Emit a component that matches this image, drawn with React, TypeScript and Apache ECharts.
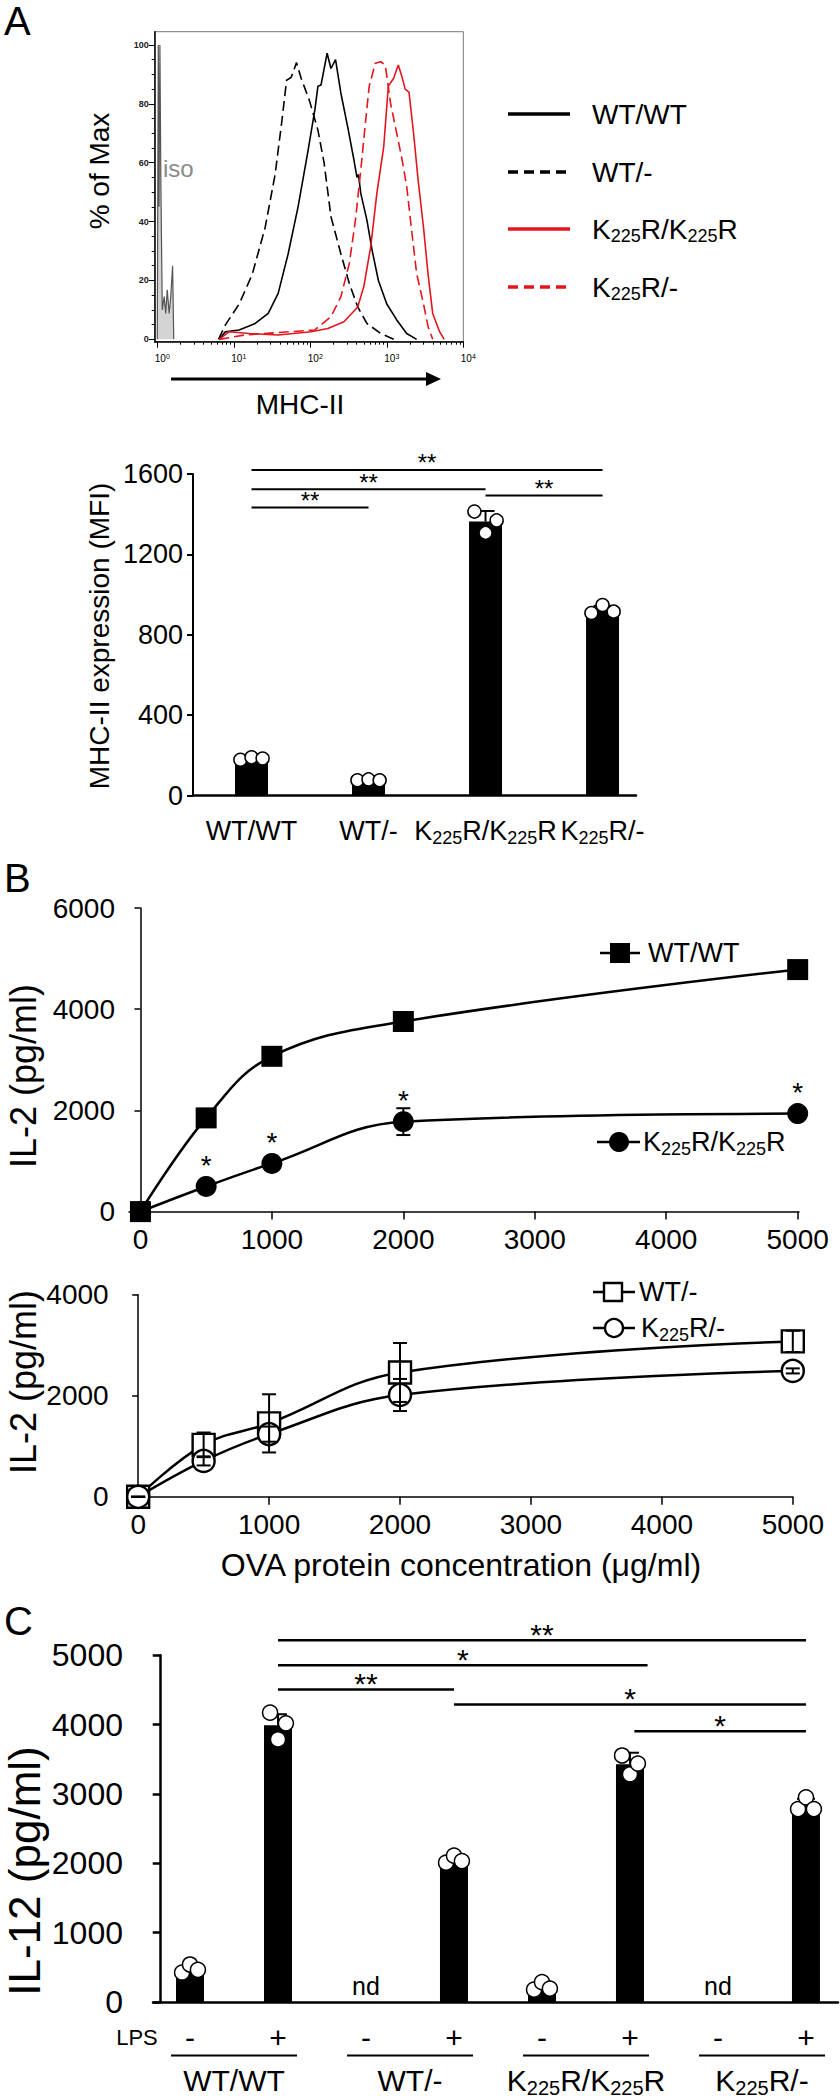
import React, { useEffect, useRef } from "react";
import * as echarts from "echarts";

const FONT = "'Liberation Sans', Arial, Helvetica, sans-serif";
const RED = "#e3161d";

// ---------- Panel A: flow histogram  [log10(MHC-II), % of Max] ----------
const histWTWT = [
  [0.81, 0], [0.89, 2.6], [1.07, 3.2], [1.28, 5.4], [1.45, 8.8], [1.58, 15.6], [1.71, 29], [1.84, 45],
  [1.97, 64], [2.06, 78], [2.1, 86], [2.14, 86.4], [2.22, 97.2], [2.27, 92], [2.33, 95], [2.4, 83.6],
  [2.49, 72], [2.57, 61], [2.61, 55], [2.63, 56], [2.66, 49.6], [2.74, 40.5], [2.81, 30], [2.89, 20],
  [3.0, 12], [3.13, 6.6], [3.26, 2], [3.39, 0],
];
const histWTminus = [
  [0.8, 0], [0.89, 4.9], [1.07, 12], [1.24, 22], [1.41, 38], [1.54, 56], [1.63, 74.5], [1.69, 88],
  [1.75, 89], [1.82, 94], [1.88, 88.7], [1.99, 81], [2.1, 71], [2.18, 60], [2.27, 41.7], [2.4, 29],
  [2.51, 19], [2.62, 11], [2.74, 5.4], [2.92, 2], [3.09, 0],
];
const histKK = [
  [0.81, 0], [0.94, 2.6], [1.2, 2], [1.58, 1.5], [2.01, 2.6], [2.23, 3.7], [2.44, 6], [2.62, 11],
  [2.7, 18], [2.79, 31.5], [2.87, 49.6], [2.96, 65.5], [3.02, 86], [3.09, 88.7], [3.15, 93.2], [3.2, 89],
  [3.24, 85], [3.29, 84], [3.35, 70], [3.41, 54], [3.48, 38], [3.54, 22], [3.6, 8.8], [3.69, 2.6], [3.75, 0],
];
const histKminus = [
  [0.81, 0], [1.15, 1.5], [2.06, 3.2], [2.27, 7.7], [2.4, 14.5], [2.51, 25.8], [2.59, 40.5], [2.66, 57.5],
  [2.72, 73.4], [2.77, 86], [2.85, 93.8], [2.92, 94.3], [2.98, 93.2], [3.05, 80], [3.13, 70], [3.2, 61],
  [3.26, 52], [3.32, 38], [3.39, 22.4], [3.48, 12], [3.54, 4.3], [3.6, 0],
];
const histIso = [
  [0, 0], [0.013, 100], [0.022, 45], [0.034, 100], [0.047, 52], [0.065, 10], [0.09, 14.5], [0.11, 8.8],
  [0.13, 16.8], [0.155, 8.8], [0.176, 14.5], [0.2, 25], [0.215, 0],
];
const histXTickLogs = [0, 1, 2, 3, 4];
const histYTicks = [0, 20, 40, 60, 80, 100];
const histYMinor = [5, 10, 15, 25, 30, 35, 45, 50, 55, 65, 70, 75, 85, 90, 95];
const histNames = ["WT/WT", "WT/-", "K225R/K225R", "K225R/-"];

// ---------- Panel A: MHC-II MFI ----------
const genotypes = ["WT/WT", "WT/-", "K225R/K225R", "K225R/-"];
const mfiMeans = [184, 77, 1363, 924];
const mfiSD = [8, 4, 53, 20];
const mfiDots = [[178, 190, 184], [76, 80, 76], [1413, 1307, 1369], [908, 948, 915]];
const mfiSig = [[1, 1620, 4], [1, 1524, 3], [3, 1493, 4], [1, 1433, 2]]; // [from, y, to]
const mfiSigLabels = ["**", "**", "**", "**"];

// ---------- Panel B: IL-2 ----------
const ovaConc = [0, 500, 1000, 2000, 5000];
const ovaTicks = [0, 1000, 2000, 3000, 4000, 5000];
const il2WTWT = [0, 1852, 3069, 3757, 4783];
const il2WTWTsd = [0, 120, 90, 110, 90];
const il2KK = [0, 497, 952, 1778, 1937];
const il2KKsd = [0, 50, 60, 265, 60];
const il2KKstars = ["", "*", "*", "*", "*"];
const il2WTminus = [0, 1029, 1454, 2462, 3077];
const il2WTminusSd = [0, 244, 576, 583, 212];
const il2Kminus = [0, 711, 1241, 2016, 2493];
const il2KminusSd = [0, 90, 150, 318, 50];

// ---------- Panel C: IL-12 ----------
const lpsSigns = ["-", "+", "-", "+", "-", "+", "-", "+"];
const il12Means = [470, 3990, null, 2050, 215, 3430, null, 2840];
const il12SD = [40, 160, null, 50, 50, 165, null, 90];
const il12Dots = [[425, 541, 464], [4173, 3787, 4019], null, [2009, 2110, 2032], [178, 286, 193], [3555, 3284, 3439], null, [2782, 2952, 2782]];
const il12Sig = [[1, 5218, 7], [1, 4856, 5.2], [1, 4508, 3], [3, 4291, 7], [5.05, 3904, 7]];
const il12SigLabels = ["**", "*", "**", "*", "*"];

// ---------- layout constants ----------
const C_OFF = 0.333;
const C_X0 = 160.7;
const C_STEP = 88;
const JIT_A = 0.095;
const JIT_C = 0.09;

const plain = (v: number) => String(v);

function toRich(s: string) {
  return s
    .split(/(225)/)
    .filter((p) => p.length > 0)
    .map((p) => (p === "225" ? "{s|225}" : `{n|${p}}`))
    .join("");
}
function richStyles(size: number) {
  return {
    n: { fontSize: size, fontFamily: FONT, lineHeight: Math.round(size * 1.15), color: "#000", fill: "#000" },
    s: {
      fontSize: Math.round(size * 0.65), fontFamily: FONT, lineHeight: Math.round(size * 0.6),
      verticalAlign: "bottom", color: "#000", fill: "#000",
    },
  };
}
function txt(x: number, y: number, text: string, size: number, opts: any = {}) {
  return {
    type: "text", x, y, rotation: opts.rot || 0, z: 20,
    style: {
      text, fontSize: size, fontFamily: FONT, fill: opts.fill || "#000",
      align: opts.align || "center", verticalAlign: "middle", rich: opts.rich,
    },
  };
}
function hline(x1: number, x2: number, y: number, w: number, dash?: number[], color = "#000") {
  return { type: "line", z: 20, shape: { x1, y1: y, x2, y2: y }, style: { stroke: color, lineWidth: w, lineDash: dash } };
}

const errRender = (capHalf: number, upOnly: boolean, lw: number) => (params: any, api: any) => {
  const x = api.value(0), m = api.value(1), sd = api.value(2);
  const p1 = api.coord([x, m + sd]);
  const p0 = api.coord([x, upOnly ? m : m - sd]);
  const st = { stroke: "#000", lineWidth: lw };
  const ch: any[] = [
    { type: "line", shape: { x1: p1[0], y1: p1[1], x2: p0[0], y2: p0[1] }, style: st },
    { type: "line", shape: { x1: p1[0] - capHalf, y1: p1[1], x2: p1[0] + capHalf, y2: p1[1] }, style: st },
  ];
  if (!upOnly) ch.push({ type: "line", shape: { x1: p0[0] - capHalf, y1: p0[1], x2: p0[0] + capHalf, y2: p0[1] }, style: st });
  return { type: "group", children: ch };
};
const sigRender = (labels: string[], fontSize: number, lw: number, gap: number) => (params: any, api: any) => {
  const y = api.value(1);
  const a = api.coord([api.value(0), y]);
  const b = api.coord([api.value(2), y]);
  return {
    type: "group",
    children: [
      { type: "line", shape: { x1: a[0], y1: a[1], x2: b[0], y2: b[1] }, style: { stroke: "#000", lineWidth: lw } },
      {
        type: "text", x: (a[0] + b[0]) / 2, y: a[1] - gap,
        style: { text: labels[params.dataIndex], fontSize, fontFamily: FONT, fill: "#000", align: "center", verticalAlign: "middle" },
      },
    ],
  };
};
const dotData = (groups: (number[] | null)[], jit: number, off: number) =>
  groups.flatMap((vals, i) => (vals ? vals.map((v, j) => [i + off + (j - 1) * jit, v]) : []));

function buildOption() {
  const blackAxis = (w: number) => ({ lineStyle: { color: "#000", width: w } });
  const histMinor = [0, 1, 2, 3].flatMap((d) => [2, 3, 4, 5, 6, 7, 8, 9].map((k) => d + Math.log10(k)));

  const histLine = (name: string, data: number[][], color: string, dashed: boolean) => ({
    type: "line", name, xAxisIndex: 0, yAxisIndex: 0, data, symbol: "none", clip: true, z: 3,
    lineStyle: { color, width: 1.6, type: dashed ? [10, 5] : "solid" },
  });

  const axisLblB = { fontSize: 28, fontFamily: FONT, color: "#000", formatter: plain };

  const graphics: any[] = [
    txt(4, 21, "A", 40, { align: "left" }),
    txt(4, 878, "B", 40, { align: "left" }),
    txt(4, 1621, "C", 40, { align: "left" }),
    // histogram decorations
    txt(99, 171, "% of Max", 28, { rot: Math.PI / 2 }),
    txt(163, 168, "iso", 24, { align: "left", fill: "#8a8a8a" }),
    { type: "line", z: 20, shape: { x1: 171, y1: 379, x2: 428, y2: 379 }, style: { stroke: "#000", lineWidth: 3 } },
    { type: "polygon", z: 20, shape: { points: [[426, 372], [441, 379], [426, 386]] }, style: { fill: "#000" } },
    txt(300, 404, "MHC-II", 28),
    // histogram legend
    hline(508, 570, 114, 3.5),
    txt(592, 114, toRich(histNames[0]), 28, { align: "left", rich: richStyles(28) }),
    hline(508, 570, 172, 3.5, [10, 6]),
    txt(592, 172, toRich(histNames[1]), 28, { align: "left", rich: richStyles(28) }),
    hline(508, 570, 229, 3.5, undefined, RED),
    txt(592, 229, toRich(histNames[2]), 28, { align: "left", rich: richStyles(28) }),
    hline(508, 570, 287, 3.5, [10, 6], RED),
    txt(592, 287, toRich(histNames[3]), 28, { align: "left", rich: richStyles(28) }),
    // MFI y label
    txt(99, 636, "MHC-II expression (MFI)", 28, { rot: Math.PI / 2 }),
    // B top legend
    hline(600, 640, 953, 2.5),
    { type: "rect", z: 21, shape: { x: 610, y: 943, width: 20, height: 20 }, style: { fill: "#000" } },
    txt(648, 953, toRich("WT/WT"), 27, { align: "left", rich: richStyles(27) }),
    hline(597, 640, 1142, 2.5),
    { type: "circle", z: 21, shape: { cx: 619, cy: 1142, r: 10 }, style: { fill: "#000" } },
    txt(643, 1142, toRich("K225R/K225R"), 27, { align: "left", rich: richStyles(27) }),
    txt(23, 1076, "IL-2 (pg/ml)", 36, { rot: Math.PI / 2 }),
    // B bottom legend
    hline(593, 635, 1292, 2.5),
    { type: "rect", z: 21, shape: { x: 604, y: 1283, width: 18, height: 18 }, style: { fill: "#fff", stroke: "#000", lineWidth: 2.4 } },
    txt(639, 1292, toRich("WT/-"), 27, { align: "left", rich: richStyles(27) }),
    hline(593, 635, 1328, 2.5),
    { type: "circle", z: 21, shape: { cx: 614, cy: 1328, r: 9 }, style: { fill: "#fff", stroke: "#000", lineWidth: 2.4 } },
    txt(641, 1328, toRich("K225R/-"), 27, { align: "left", rich: richStyles(27) }),
    txt(23, 1382, "IL-2 (pg/ml)", 36, { rot: Math.PI / 2 }),
    txt(461, 1565, "OVA protein concentration (μg/ml)", 32),
    // C decorations
    txt(24, 1871, "IL-12 (pg/ml)", 44, { rot: Math.PI / 2 }),
    txt(137, 2037, "LPS", 22),
  ];
  genotypes.forEach((g, gi) => {
    const xl = C_X0 + (2 * gi + C_OFF) * C_STEP - 19;
    const xr = C_X0 + (2 * gi + 1 + C_OFF) * C_STEP + 19;
    graphics.push(hline(xl, xr, 2055.5, 2));
    graphics.push(txt((xl + xr) / 2, 2080, toRich(g), 30, { rich: richStyles(30) }));
  });

  return {
    animation: false,
    backgroundColor: "#fff",
    textStyle: { fontFamily: FONT },
    grid: [
      { left: 154.7, top: 31.7, width: 308.6, height: 310, show: true, borderColor: "#777", borderWidth: 1 },
      { left: 193, top: 474, width: 443, height: 321.5 },
      { left: 129, top: 908, width: 670, height: 303.6 },
      { left: 128.6, top: 1294.8, width: 664.2, height: 202 },
      { left: 153, top: 1655.3, width: 685, height: 346.7 },
    ],
    xAxis: [
      {
        gridIndex: 0, type: "value", min: -0.034, max: 4.0, position: "bottom",
        axisLine: { onZero: false, ...blackAxis(1.5) },
        axisTick: { customValues: histXTickLogs, length: 6, lineStyle: { color: "#000" } },
        axisLabel: {
          customValues: histXTickLogs, margin: 11, padding: [0, 0, 0, 10],
          formatter: (v: number) => `{b|10}{p|${v}}`,
          rich: {
            b: { fontSize: 10, lineHeight: 12, fontFamily: FONT, color: "#000" },
            p: { fontSize: 7, lineHeight: 6, verticalAlign: "top", fontFamily: FONT, color: "#000" },
          },
        },
        splitLine: { show: false },
      },
      {
        gridIndex: 0, type: "value", min: -0.034, max: 4.0, position: "bottom",
        axisLine: { show: false, onZero: false },
        axisTick: { customValues: histMinor, length: 3, lineStyle: { color: "#000" } },
        axisLabel: { show: false }, splitLine: { show: false },
      },
      {
        gridIndex: 1, type: "value", min: 0.5, max: 4.286,
        axisLine: blackAxis(2.5), axisTick: { show: false },
        axisLabel: {
          customValues: [1, 2, 3, 4], margin: 20, formatter: (v: number) => toRich(genotypes[Math.round(v) - 1]),
          rich: richStyles(27),
        },
        splitLine: { show: false },
      },
      {
        gridIndex: 2, type: "value", min: -87, max: 5010,
        axisLine: { onZero: true, ...blackAxis(1.5) },
        axisTick: { customValues: ovaTicks, length: 8, lineStyle: { color: "#000", width: 1.5 } },
        axisLabel: { customValues: ovaTicks, margin: 14, ...axisLblB },
        splitLine: { show: false },
      },
      {
        gridIndex: 3, type: "value", min: -73, max: 5000,
        axisLine: { onZero: true, ...blackAxis(1.5) },
        axisTick: { customValues: ovaTicks, length: 8, lineStyle: { color: "#000", width: 1.5 } },
        axisLabel: { customValues: ovaTicks, margin: 14, ...axisLblB },
        splitLine: { show: false },
      },
      {
        gridIndex: 4, type: "value", min: -0.0875, max: 7.697,
        axisLine: blackAxis(2.5), axisTick: { show: false },
        axisLabel: {
          customValues: lpsSigns.map((_, i) => i + C_OFF), margin: 20, fontSize: 30, color: "#000", fontFamily: FONT,
          formatter: (v: number) => lpsSigns[Math.round(v - C_OFF)],
        },
        splitLine: { show: false },
      },
    ],
    yAxis: [
      {
        gridIndex: 0, type: "value", min: -0.8, max: 104.5, position: "left",
        axisLine: { onZero: false, ...blackAxis(1.5) },
        axisTick: { customValues: histYTicks, length: 6, lineStyle: { color: "#000" } },
        axisLabel: { customValues: histYTicks, fontSize: 9, fontWeight: "bold", color: "#222", margin: 6 },
        splitLine: { show: false },
      },
      {
        gridIndex: 0, type: "value", min: -0.8, max: 104.5, position: "left",
        axisLine: { show: false, onZero: false },
        axisTick: { customValues: histYMinor, length: 3, lineStyle: { color: "#000" } },
        axisLabel: { show: false }, splitLine: { show: false },
      },
      {
        gridIndex: 1, type: "value", min: 0, max: 1600, interval: 400,
        axisLine: { show: true, ...blackAxis(2) },
        axisTick: { show: true, length: 6, lineStyle: { color: "#000", width: 2 } },
        axisLabel: { fontSize: 27, color: "#000", margin: 10, fontFamily: FONT, formatter: plain },
        splitLine: { show: false },
      },
      {
        gridIndex: 2, type: "value", min: 0, max: 6000, interval: 2000,
        axisLine: { show: true, onZero: true, ...blackAxis(1.5) },
        axisTick: { show: true, length: 6, lineStyle: { color: "#000", width: 1.5 } },
        axisLabel: { margin: 14, ...axisLblB },
        splitLine: { show: false },
      },
      {
        gridIndex: 3, type: "value", min: 0, max: 4000, interval: 2000,
        axisLine: { show: true, onZero: true, ...blackAxis(1.5) },
        axisTick: { show: true, length: 6, lineStyle: { color: "#000", width: 1.5 } },
        axisLabel: { margin: 20, ...axisLblB },
        splitLine: { show: false },
      },
      {
        gridIndex: 4, type: "value", min: 0, max: 5000, interval: 1000,
        axisLine: { show: true, onZero: true, ...blackAxis(2.5) },
        axisTick: { show: true, length: 8, lineStyle: { color: "#000", width: 2.5 } },
        axisLabel: { fontSize: 32, color: "#000", margin: 30, fontFamily: FONT, formatter: plain },
        splitLine: { show: false },
      },
    ],
    series: [
      // ---- histogram
      {
        type: "line", name: "iso", xAxisIndex: 0, yAxisIndex: 0, data: histIso, symbol: "none", z: 2,
        lineStyle: { color: "#555", width: 1.2 }, areaStyle: { color: "#d4d4d4", opacity: 1 },
      },
      histLine(histNames[1], histWTminus, "#000", true),
      histLine(histNames[0], histWTWT, "#000", false),
      histLine(histNames[3], histKminus, RED, true),
      histLine(histNames[2], histKK, RED, false),
      // ---- MFI bars
      {
        type: "bar", xAxisIndex: 2, yAxisIndex: 2, barWidth: 33, itemStyle: { color: "#000" },
        data: mfiMeans.map((v, i) => [i + 1, v]),
      },
      {
        type: "custom", xAxisIndex: 2, yAxisIndex: 2, clip: false, z: 4,
        renderItem: errRender(9, true, 2), data: mfiMeans.map((v, i) => [i + 1, v, mfiSD[i]]),
      },
      {
        type: "scatter", xAxisIndex: 2, yAxisIndex: 2, symbolSize: 13, z: 5,
        itemStyle: { color: "#fff", borderColor: "#000", borderWidth: 1.5, opacity: 1 },
        data: dotData(mfiDots, JIT_A, 1),
      },
      {
        type: "custom", xAxisIndex: 2, yAxisIndex: 2, clip: false, z: 6,
        renderItem: sigRender(mfiSigLabels, 24, 2, 7), data: mfiSig,
      },
      // ---- IL-2 top
      {
        type: "line", name: "WT/WT", xAxisIndex: 3, yAxisIndex: 3, smooth: 0.4,
        symbol: "rect", symbolSize: 21, itemStyle: { color: "#000" }, lineStyle: { color: "#000", width: 2.5 },
        data: ovaConc.map((c, i) => [c, il2WTWT[i]]),
      },
      {
        type: "line", name: "K225R/K225R", xAxisIndex: 3, yAxisIndex: 3, smooth: 0.4,
        symbol: "circle", symbolSize: 21, itemStyle: { color: "#000" }, lineStyle: { color: "#000", width: 2.5 },
        data: ovaConc.map((c, i) => ({
          value: [c, il2KK[i]],
          label: {
            show: il2KKstars[i] !== "", formatter: il2KKstars[i], position: "inside", offset: [0, -21],
            fontSize: 28, color: "#000", fontFamily: FONT,
          },
        })),
      },
      {
        type: "custom", xAxisIndex: 3, yAxisIndex: 3, clip: false, z: 1,
        renderItem: errRender(7, false, 2),
        data: ovaConc.map((c, i) => [c, il2WTWT[i], il2WTWTsd[i]]).concat(ovaConc.map((c, i) => [c, il2KK[i], il2KKsd[i]])),
      },
      // ---- IL-2 bottom
      {
        type: "line", name: "WT/-", xAxisIndex: 4, yAxisIndex: 4, smooth: 0.4,
        symbol: "rect", symbolSize: 22, itemStyle: { color: "#fff", borderColor: "#000", borderWidth: 2.4 },
        lineStyle: { color: "#000", width: 2.5 },
        data: ovaConc.map((c, i) => [c, il2WTminus[i]]),
      },
      {
        type: "line", name: "K225R/-", xAxisIndex: 4, yAxisIndex: 4, smooth: 0.4,
        symbol: "circle", symbolSize: 22, itemStyle: { color: "#fff", borderColor: "#000", borderWidth: 2.4 },
        lineStyle: { color: "#000", width: 2.5 },
        data: ovaConc.map((c, i) => [c, il2Kminus[i]]),
      },
      {
        type: "custom", xAxisIndex: 4, yAxisIndex: 4, clip: false, z: 5,
        renderItem: errRender(7, false, 2),
        data: ovaConc.map((c, i) => [c, il2WTminus[i], il2WTminusSd[i]]).concat(ovaConc.map((c, i) => [c, il2Kminus[i], il2KminusSd[i]])),
      },
      // ---- IL-12
      {
        type: "bar", xAxisIndex: 5, yAxisIndex: 5, barWidth: 28, itemStyle: { color: "#000" },
        data: il12Means.map((v, i) => [i + C_OFF, v]).filter((d) => d[1] !== null),
      },
      {
        type: "custom", xAxisIndex: 5, yAxisIndex: 5, clip: false, z: 4,
        renderItem: errRender(9, true, 2),
        data: il12Means.map((v, i) => [i + C_OFF, v, il12SD[i]]).filter((d) => d[1] !== null),
      },
      {
        type: "scatter", xAxisIndex: 5, yAxisIndex: 5, symbolSize: 15, z: 5,
        itemStyle: { color: "#fff", borderColor: "#000", borderWidth: 1.5, opacity: 1 },
        data: dotData(il12Dots, JIT_C, C_OFF),
      },
      {
        type: "custom", xAxisIndex: 5, yAxisIndex: 5, clip: false, z: 5,
        renderItem: (params: any, api: any) => {
          const p = api.coord([api.value(0), 0]);
          return {
            type: "text", x: p[0], y: p[1] - 16,
            style: { text: "nd", fontSize: 25, fontFamily: FONT, fill: "#000", align: "center", verticalAlign: "middle" },
          };
        },
        data: il12Means.map((v, i) => [i + C_OFF, v]).filter((d) => d[1] === null).map((d) => [d[0], 0]),
      },
      {
        type: "custom", xAxisIndex: 5, yAxisIndex: 5, clip: false, z: 6,
        renderItem: sigRender(il12SigLabels, 30, 2.5, 6),
        data: il12Sig.map((s) => [s[0] + C_OFF, s[1], s[2] + C_OFF]),
      },
    ],
    graphic: graphics,
  };
}

export default function App() {
  const ref = useRef<HTMLDivElement>(null);
  useEffect(() => {
    if (!ref.current) return;
    const chart = echarts.init(ref.current, null, { renderer: "svg" });
    chart.setOption(buildOption() as any);
    return () => chart.dispose();
  }, []);
  return (
    <div
      ref={ref}
      style={{ position: "absolute", left: 0, top: 0, width: 840, height: 2100, background: "#fff" }}
    />
  );
}
